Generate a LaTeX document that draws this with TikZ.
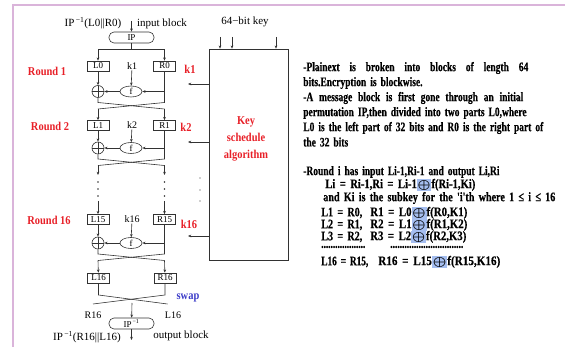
\documentclass[tikz,border=0pt]{standalone}
\usepackage{graphicx}
\usepackage{fontspec}
\setmainfont{Liberation Serif}
\newfontfamily\cond[FakeStretch=0.87]{Liberation Serif}
\newfontface\rfont[FakeStretch=0.73,FakeBold=0.5]{Liberation Serif Bold}
\usetikzlibrary{arrows.meta,shapes.geometric}
\definecolor{framec}{RGB}{218,180,218}
\definecolor{redt}{RGB}{232,32,40}
\definecolor{bluet}{RGB}{60,60,200}
\definecolor{hl}{RGB}{165,190,240}
\definecolor{ln}{RGB}{50,50,50}
\newcommand{\hx}{{\setlength{\fboxsep}{1pt}\colorbox{hl}{$\bigoplus$}}}
\newcommand{\rsp}{\spaceskip=4pt plus 40pt minus 1pt\relax}
\newcommand{\fw}[2]{\resizebox{#1pt}{\height}{#2}}
\begin{document}
\begin{tikzpicture}[x=1pt,y=-1pt,line width=0.6pt,draw=ln,
  >={Stealth[length=3.2pt,width=2.6pt]},
  box/.style={draw,rectangle,minimum width=22pt,minimum height=10pt,inner sep=0pt,font=\fontsize{9}{9}\selectfont},
  ipbox/.style={draw,rectangle,rounded corners=5pt,minimum width=45pt,minimum height=11pt,inner sep=0pt,font=\fontsize{9}{9}\selectfont},
  fell/.style={draw,ellipse,minimum width=22pt,minimum height=11pt,inner sep=0pt,font=\fontsize{9}{9}\selectfont},
  xorn/.style={draw,circle,minimum size=12pt,inner sep=0pt,
    path picture={\draw[line width=0.6pt] (path picture bounding box.north) -- (path picture bounding box.south)
      (path picture bounding box.west) -- (path picture bounding box.east);}},
  lbl/.style={font=\fontsize{10}{10}\selectfont,inner sep=0pt},
  lbll/.style={font=\fontsize{11}{11}\selectfont,inner sep=0pt},
  rnd/.style={font=\cond\bfseries\fontsize{12}{12}\selectfont,text=redt,inner sep=0pt},
  rt/.style={font=\rfont\fontsize{13}{13}\selectfont\rsp,anchor=west,inner sep=0pt},
  dotn/.style={circle,fill=ln,inner sep=0pt,minimum size=1.6pt}]
\useasboundingbox (0,0) rectangle (565,347);
% frame
\draw[framec,line width=2pt] (13,347) -- (13,5) -- (565,5);

% input
\node[ipbox] (IP) at (131.5,37.5) {IP};
\coordinate (inp) at (131.5,21);
\draw[->] (inp) -- (IP);
\node[lbll] (iplab) at (93,23) {IP\textsuperscript{\,−1}(L0||R0)};
\node[lbll] (inlab) at (162,24) {input block};
\node[lbll] (keylab) at (245,22) {64−bit key};

% key schedule box
\node[draw,rectangle,minimum width=79pt,minimum height=211pt,inner sep=0pt] (kb) at (248.5,154.5) {};
\node[rnd,align=center,font=\cond\bfseries\fontsize{12}{17}\selectfont] (kst) at (246,139) {Key\\schedule\\algorithm};
\foreach \kx/\nm in {220/ki1,232/ki2,276/ki3}{
  \coordinate (\nm) at (\kx,37);
  \draw[->] (\nm) -- (\nm |- kb.north);
}
\foreach \ky/\nm in {84/ka1,142/ka2,236/ka3}{
  \coordinate (\nm) at (188,\ky);
  \draw[->] (\nm -| kb.west) -- (\nm);
}
\foreach \dy/\nm in {178/kd1,190/kd2,201/kd3}{
  \node[dotn,minimum size=1.2pt] (\nm) at (200,\dy) {};
}

% round labels
\node[rnd] (r1) at (47,71) {Round 1};
\node[rnd] (r2) at (50,126) {Round 2};
\node[rnd] (r16) at (49,220) {Round 16};
\node[rnd] (kr1) at (190,69) {k1};
\node[rnd] (kr2) at (186,127) {k2};
\node[rnd] (kr16) at (189,224) {k16};

% split after IP
\coordinate (sp) at (131.5,49);
\draw (IP) -- (sp);

% rounds
\foreach \n/\p/\by/\fy in {a/0/66/91.5, b/1/125.5/148, c/15/219.5/243}{
  \node[box] (L\n) at (98,\by) {L\p};
  \node[box] (R\n) at (164.5,\by) {R\p};
  \node[fell] (f\n) at (131,\fy) {f};
  \node[xorn] (x\n) at (98,\fy) {};
  \draw[->] (L\n) -- (x\n);
  \draw[->] (f\n) -- (x\n);
  \draw[->] (R\n |- f\n) -- (f\n);
  \draw (x\n) -- ++(0,11) coordinate (cl\n) -- ++(66.5,6.5) coordinate (er\n);
  \draw (R\n) -- (R\n |- cl\n) coordinate (cr\n) -- ++(-66.5,6.5) coordinate (el\n);
}
\node[lbl] (ka) at (132,66) {k1};
\node[lbl] (kbl) at (132,125.5) {k2};
\node[lbl] (kc) at (132,219.5) {k16};
\draw[->] (ka) -- (fa);
\draw[->] (kbl) -- (fb);
\draw[->] (kc) -- (fc);

\draw[->] (sp) -| (La);
\draw[->] (sp) -| (Ra);
\draw[->] (ela) -- (Lb);
\draw[->] (era) -- (Rb);

% dots between round 2 and 16
\coordinate (dl) at (98,175); \coordinate (dr) at (164.5,175);
\draw[->] (elb) -- (dl);
\draw[->] (erb) -- (dr);
\foreach \dy/\nm in {182/1,189/2,196/3}{
  \node[dotn] (dla\nm) at (98,\dy) {};
  \node[dotn] (dra\nm) at (164.5,\dy) {};
}
\coordinate (ul) at (98,201); \coordinate (ur) at (164.5,201);
\draw[->] (ul) -- (Lc);
\draw[->] (ur) -- (Rc);

% L16 R16
\node[box] (Ld) at (98.5,278) {L16};
\node[box] (Rd) at (165,278) {R16};
\draw[->] (elc) -- (Ld);
\draw[->] (erc) -- (Rd);

% swap
\draw (Ld) -- ++(0,17) coordinate (swl) -- (167.5,304) coordinate (swr2);
\draw (Rd) -- ++(0,17) coordinate (swr) -- (93,304) coordinate (swl2);
\node[font=\cond\bfseries\fontsize{12}{12}\selectfont,text=bluet,inner sep=0pt] (swaplab) at (188,298) {swap};
\node[lbl] (r16l) at (93,315) {R16};
\node[lbl] (l16l) at (173,315) {L16};
\coordinate (swc) at (132,303);
\node[ipbox] (IPi) at (131.5,323.5) {IP\textsuperscript{\,−1}};
\draw[->] (swc) -- (IPi);
\coordinate (outp) at (131.5,340);
\draw[->] (IPi) -- (outp);
\node[lbll] (outlab) at (87,337) {IP\textsuperscript{\,−1}(R16||L16)};
\node[lbll] (outbl) at (181,336) {output block};

% right text
\node[rt] (t1) at (303,68) {\hbox to 225pt{\rsp -Plainext is broken into blocks of length 64}};
\node[rt] (t2) at (303,83) {bits.Encryption is blockwise.};
\node[rt] (t3) at (303,98) {\hbox to 220pt{\rsp -A message block is first gone through an initial}};
\node[rt] (t4) at (303,113) {permutation IP,then divided into two parts L0,where};
\node[rt] (t5) at (303,128) {L0 is the left part of 32 bits and R0 is the right part of};
\node[rt] (t6) at (303,142) {the 32 bits};
\node[rt] (t7) at (303,172) {-Round i has input Li-1,Ri-1 and output Li,Ri};
\node[rt] (t8) at (325,185) {\fw{150}{Li = Ri-1,Ri = Li-1\hx f(Ri-1,Ki)}};
\node[rt] (t9) at (323,198) {\fw{232}{and Ki is the subkey for the 'i'th where 1 ≤ i ≤ 16}};
\node[rt] (e1a) at (321,213) {\fw{41}{L1 = R0,}};
\node[rt] (e1b) at (370,213) {\fw{97}{R1 = L0\hx f(R0,K1)}};
\node[rt] (e2a) at (321,225) {\fw{41}{L2 = R1,}};
\node[rt] (e2b) at (370,225) {\fw{97}{R2 = L1\hx f(R1,K2)}};
\node[rt] (e3a) at (321,237) {\fw{41}{L3 = R2,}};
\node[rt] (e3b) at (370,237) {\fw{96}{R3 = L2\hx f(R2,K3)}};
\node[rt] (dd1) at (321,247) {\fw{44}{...................}};
\node[rt] (dd2) at (390,247) {\fw{73}{...............................}};
\node[rt] (e4a) at (321,262) {\fw{47}{L16 = R15,}};
\node[rt] (e4b) at (378,262) {\fw{122}{R16 = L15\hx f(R15,K16)}};
\end{tikzpicture}
\end{document}
